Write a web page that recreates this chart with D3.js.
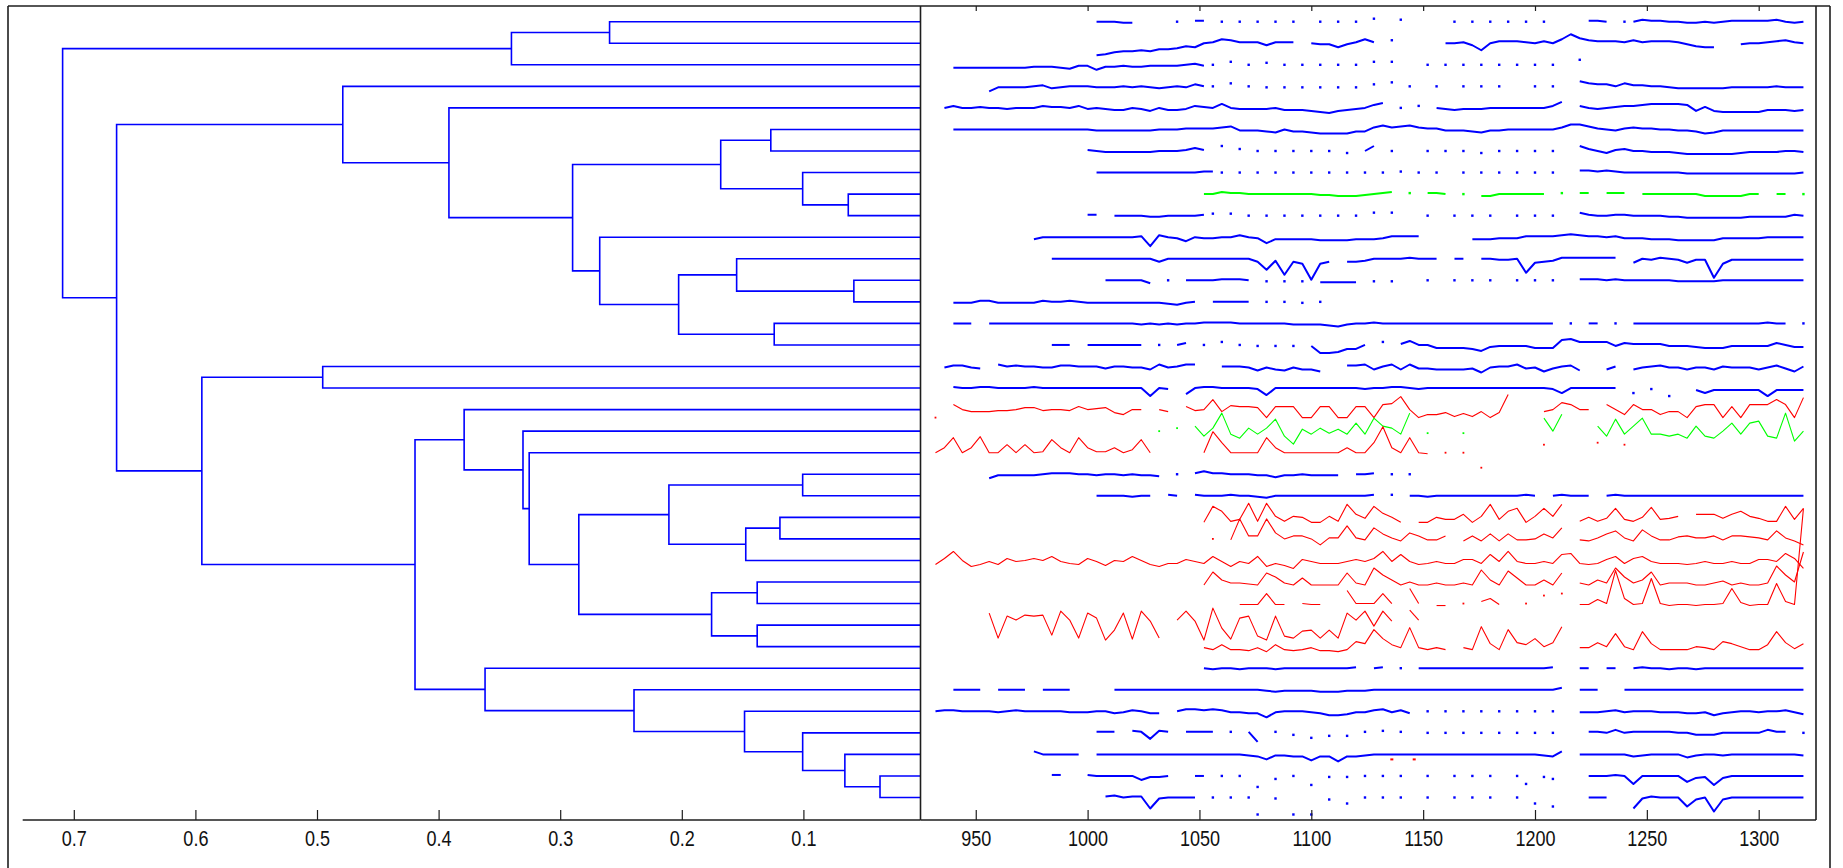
<!DOCTYPE html>
<html><head><meta charset="utf-8">
<script src="https://cdn.jsdelivr.net/npm/d3@7"></script>
<style>html,body{margin:0;padding:0;background:#fff;} svg{display:block;}</style>
</head><body>
<svg id="chart" width="1843" height="868"></svg>
<script>
const _ = null;

// ---------------- Dendrogram data (leaves numbered 1..37 top to bottom) ----------------
const leafCount = 37;
// [child A, child B, merge distance]; internal node ids start at 38
const linkage = [
  [36,37,0.037],[13,14,0.0585],[9,10,0.0631],[35,38,0.0659],[8,40,0.1006],
  [22,23,0.1006],[34,41,0.1006],[24,25,0.1193],[15,16,0.124],[6,7,0.1268],
  [27,28,0.138],[29,30,0.138],[45,26,0.1474],[33,44,0.1484],[12,39,0.1549],
  [47,42,0.168],[48,49,0.1755],[52,46,0.2026],[43,50,0.2106],[32,51,0.2393],
  [1,2,0.2594],[11,55,0.2675],[56,54,0.2847],[53,59,0.2898],[21,60,0.3255],
  [20,62,0.3306],[58,3,0.3401],[31,57,0.3618],[19,63,0.379],[5,61,0.3915],
  [66,65,0.4194],[4,67,0.4788],[17,18,0.4953],[70,68,0.5947],[69,71,0.6648],
  [64,72,0.7092]
];
const distTicks = [0.7,0.6,0.5,0.4,0.3,0.2,0.1];
const timeTicks = [950,1000,1050,1100,1150,1200,1250,1300];

// ---------------- Time series (one row per leaf) ----------------
const rowColor = ['b','b','b','b','b','b','b','b','g','b','b','b','b','b','b','b','b','b',
                  'r','g','r','b','b','r','r','r','r','r','r','r','b','b','b','b','b','b','b'];
const sampleStep = 4;   // time units between samples
// each row: chunks [startTime, v, v, ...]; null = missing; values = offset from the leaf line (up +)
const row01 = [[1004,0,0,0,-1,-1],[1040,0,_,1,1],[1060,0,_,0,_,0,_,0,_,0,_,_,0,_,0,_,0,_,3,_,_,2],[1164,0,_,0,_,0,_,0,_,0,_,0],[1224,1,1,0],[1240,0],[1244,0,2,1,1,0,0,-1,-1,0,-1,0,1,1,1,1,1,2,0,-1,0]];
const row02 = [[1004,-12,-11,-9,-8,-8,-7,-8,-6,-6,-5,-3,-4,0,1,4,3,1,1,1,-2,1,1,1],[1100,0,-1,-1,-4,-1,1,4,1],[1136,3],[1160,0,0,1,-2,-7,0,2,2,2,1,0,2,0,4,9,5,3,2,2,2,1,3,1,2,2,2,1,-1,-3,-4,-4],[1292,-1,0,0,1,2,3,1,0]];
const row03 = [[940,-3,-3,-3,-3,-3,-3,-3,-3,-3,-2,-2,-2,-3,-4,-1,-1,-5,-2,-2,-1,-2,-2,-1,-1,-1,-1,0,1,-1],[1056,0,_,3,_,0,_,2,_,0,_,0,_,0,_,0,_,0,_,3,_,3],[1152,0,_,0,_,0,_,0,_,0,_,0,_,0,_,0,_,_,5]];
const row04 = [[956,-5,-1,-1,-1,-1,0,1,-2,-1,0,0,0,-1,-1,-1,0,-1,0,-1,-2,-1,0,-1,2,0],[1056,0,_,3,_,0,_,-1,_,-1,_,-1,_,-1,_,-1,_,-1,_,2,_,4,_,0,_,_,0,_,_,0,_,0,_,0,_,_,_,0,_,0],[1220,5,3,2,2,0,3,1,1,0,0,-1,-2,-2,-2,-2,-2,-2,-1,-1,-1,-1,-1,0,-1,-1,-1]];
const row05 = [[936,0,2,0,0,1,0,0,-1,0,0,0,2,1,1,0,2,-1,0,-1,-2,-2,0,-1,-3,0,-2,-2,-1,2,1,0,4,0,-1,-1,-1,-1,0,-2,-2,-2,-3,-4,-5,-3,-2,-1,0,3,5],[1140,0,_,2],[1156,0,-1,-2,-1,-1,-1,0,0,0,0,0,0,0,2,6],[1220,2,0,-1,0,1,2,2,3,4,4,4,4,3,-3,1,-3,-4,-4,-4,-4,-4,-2,-2,-2,-3,-2]];
const row06 = [[940,0,0,0,0,0,0,0,0,0,0,0,0,0,0,0,0,-1,-1,-1,-1,-1,-1,-1,0,0,0,1,1,1,1,2,3,-1,-1,-1,-2,-3,0,-2,-2,-3,-4,-4,-4,-4,-2,-2,2,4,2,3,4,2,1,1,-1,-1,-1,-2,-3,-1,-1,0,0,0,0,0,0,2,5,5,3,1,0,-1,1,2,1,1,0,0,-1,-1,-2,-4,-3,-1,-1,-1,-1,-1,-1,-1,-1,-1,-1]];
const row07 = [[1000,1,0,-1,-1,-1,-1,-1,-1,0,0,0,1,3,1],[1060,5,_,2,_,0,_,0,_,0,_,0,_,0,_,-2,_,0,5,_,0],[1152,0,_,0,_,0,_,-2,_,0,_,0,_,0,_,0],[1220,5,2,0,-2,1,2,0,0,-1,-1,-1,-2,-3,-3,-3,-3,-3,-3,-2,-1,-1,-1,-1,0,0,-1]];
const row08 = [[1004,0,0,0,0,0,0,0,0,0,0,0,0,1,1],[1060,0,_,0,_,0,_,0,_,0,_,0,_,0,_,0,_,0,_,0,_,1,_,0],[1156,0,_,_,0,_,0,_,0,_,0,_,0,_,0],[1220,2,2,1,2,1,0,0,0,0,0,0,0,-1,-1,-1,-1,-1,-1,-1,-1,-1,-1,-1,-1,-1,0]];
const row09 = [[1052,0,0,2,1,1,0,0,0,0,0,0,0,0,-1,-1,-2,-2,-2,-1,0,1,2],[1144,1],[1152,1,1,0],[1168,0],[1176,-2,-2,0,0,0,0,0,0],[1212,1],[1220,1,1],[1232,1,1,1],[1248,0,0,0,0,0,0,0,-2,-2,-2,-2,-2,0,0],[1308,0,0],[1320,0]];
const row10 = [[1000,1,1],[1012,0,0,0,0,-1,-1,0,0,0,0,1],[1056,2,_,2,_,0,_,0,_,0,_,0,_,0,_,0,_,0,_,3,_,3],[1152,0,_,_,0,_,0,_,0,_,_,0,_,0,_,0],[1220,3,1,0,0,1,1,0,0,0,0,-1,-1,-2,-2,-2,-2,-2,-2,-2,-1,-1,-1,-1,-1,1,0]];
const row11 = [[976,-2,0,0,0,0,0,0,0,0,0,0,0,1,-9,2,0,-1,-4,0,-1,-1,0,0,2,0,-1,-6,-2,-2,-2,-2,-2,-3,-3,-3,-3,-2,-2,-2,-1,1,1,1,1],[1172,-2,-2,-2,-1,-1,-1,1,1,1,1,2,3,2,1,1,0,1,-1,-1,-1,-2,-2,-2,-3,-3,-3,-3,-3,-1,-1,-1,-1,-1,0,0,0,0,0]];
const row12 = [[984,0,0,0,0,0,0,0,0,0,0,0,0,-3,0,0,0,0,0,0,0,0,0,0,-3,-11,-2,-16,-3,-5,-21,-5,-3],[1116,-3,-3,-2,0,0,0,0,1,0,0,0],[1164,0,0],[1176,0,0,-1,-1,0,-14,-4,-3,-2,1,1,1,1,1,1,1],[1244,-4,0,-1,1,0,-1,-4,-1,-1,-19,-5,-1,-1,-1,-1,-1,-1,-1,-1,-1]];
const row13 = [[1008,0,0,0,0,0,-3],[1036,0],[1044,0,0,0,0,1,1,1,0],[1080,-1,_,-1,_,-1,_,-2,-2,-2,-2,-2,_,-1,_,-1],[1152,0,_,_,0,_,0,_,0,_,_,0,_,0,_,0],[1220,1,1,1,0,1,0,0,0,0,0,0,-1,-1,-1,-1,-1,0,0,0,0,0,0,0,0,0,0]];
const row14 = [[940,-1,-1,-1,1,1,-1,-1,-1,-1,-1,1,0,0,1,0,-1,-1,-1,-1,-1,-1,-1,-1,-1,-2,-3,-1,0],[1056,0,0,0,0,0,_,0,_,0,_,-1,_,0]];
const row15 = [[940,0,0,0],[956,0,0,0,0,0,0,0,0,0,0,0,0,0,0,0,0,0,-1,0,-1,0,-1,0,0,1,1,1,1,0,0,0,0,0,0,-1,-1,-1,-1,-2,-3,-1,0,0,1,0,0,0,0,0,0,0,0,0,0,0,0,0,0,0,0,0,0,0,0],[1216,0],[1224,0,0],[1236,0],[1244,0,0,0,0,0,0,0,0,0,0,0,0,0,0,0,1,0,0,_,0]];
const row16 = [[984,0,0,0],[1000,0,0,0,0,0,0,0],[1032,0],[1040,0,2],[1052,0],[1060,3],[1068,0],[1076,-1],[1084,-1],[1092,-1],[1100,-1,-8,-8,-7,-4,-4,0],[1132,3],[1140,1,4,0,0,-3,-3,-3,-3,-4,-6,-2,-1,-1,-1,-1,-3,-3,-3,5,6,3,3,3,3,-1,2,1,1,1,1,-1,-1,-1,-2,-3,-3,-3,-1,-1,-1,-1,-1,2,0,-2,-2]];
const row17 = [[936,-1,1,1,-1,-2],[960,2,0,1,0,0,-1,-1,1,1,0,0,0,-2,0,0,-1,-1,-3,2,-1,0,2,2],[1060,0,0,0,-1,-4,-1,-3,-4,-1,-3,-3,-5],[1116,1,1,2,-3,0,2,-3,2,-2,-2,-3,-3,-3,-3,-2,-6,-1,0,0,2,-2,-1,-5,-2,0,1,-4],[1232,-3,0],[1244,-3,-1,0,1,-1,-1,-3,-1,-1,-3,0,-1,-1,-1,-3,-1,1,-2,-5,0]];
const row18 = [[940,1,0,0,1,1,0,0,0,0,1,0,0,0,0,0,0,0,0,0,0,0,0,-8,0,-1],[1044,-6,0,1,1,0,0,0,0,-1,-7,0,0,0,0,0,0,0,0,0,0,-1,0,0,1,1,0,-1,0,0,0,0,0,0,0,0,0,0,0,0,0,0,-1,-5,0,0,0,0,0,0],[1244,-5],[1252,-1],[1260,-8],[1272,-2,-5,-2,-2,-2,-2,-2,-2,-8,-2,-2,-2,-2]];
const row19 = [[932,-8],[940,5,0,-2,-2,-2,-1,-1,0,2,2,-1,0,0,-1,3,0,1,2,-3,-5,0,0],[1032,0,-2],[1044,3,-1,0,10,-2,4,3,3,2,-8,3,3,3,-8,-8,3,3,-8,-8,3,3,-8,5,6,13,0,-8,-5,-5,-3,-7,-4,-7,-2,-8,-3,15],[1204,-2,0,7,5,0,0],[1232,5,0,-5,5,0,0,-5,-2,-2,-8,3,5,5,-8,3,-8,5,5,5,10,5,-8,12]];
const row20 = [[1032,0],[1040,3],[1048,5,-5,3,18,-3,-7,3,-3,3,12,-5,-13,2,-3,3,-2,2,-3,8,-3,13,5,3,-3,18],[1152,-2],[1168,-2],[1204,13,0,17],[1228,5,-5,12,-3,5,13,-3,-3,-5,-3,-7,5,-5,-7,0,8,-3,8,10,-5,-7,18,-10,0]];
const row21 = [[932,0,5,15,0,5,16,0,0,8,0,8,0,1,13,5,0,15,5,1,1,5,0,3,13,0],[1052,0,21,10,0,0,0,0,15,5,0,0,0,0,0,0,0,5,0,0,10,26,5,0,15,0,-1],[1160,0],[1168,0],[1176,-15],[1204,8],[1228,10],[1240,8]];
const row22 = [[956,-4,-1,-1,-1,-1,-1,0,1,1,1,0,0,-1,0,0,-1,0,-1,-1,-2],[1040,0],[1048,1,3,1,1,0,0,0,-1,-1,-3,-1,-1,0,-1,-1,-1,-1],[1120,0,0,1],[1136,0],[1144,0]];
const row23 = [[1004,0,0,0,0,-1,0,0],[1036,1,0],[1048,1,0,0,0,1,0,0,-1,-2,0,0,0,0,0,0,0,0,0,0,0,1],[1136,1],[1144,0,0,-1,0,0,0,0,0,0,0,0,0,0,1,0],[1208,0,1,0,0,0],[1232,0,1,0,0,0,0,0,0,0,0,0,0,0,0,0,0,0,0,0,0,0,0,0]];
const row24 = [[1052,-5,11,6,-4,-2,14,-4,14,1,-4,1,0,-5,-5,1,-4,13,3,-1,11,4,0,-5],[1148,-5,-5,0,-2,-2,3,-5,1,13,-2,6,9,-5,1,9,1,13],[1220,-4,0,-4,-1,9,-2,-4,0,10,-2,-1,1],[1272,3,3,3,-1,3,6,1,-1,-4,-4,11,-2,9]];
const row25 = [[1056,0],[1064,-1,20,3,3,20,6,0,3,3,0,-6,1,1,13,1,-1,11,5,1,-2,6,3,-1,-1,3],[1168,-2,3,-2,5,-2,5,-1,-1,0,5,1,11],[1220,-1,-2,1,5,8,1,-2,9,3,-1,-1,2,3,1,1,3,-1,3,3,2,1,-1,8,1,-2,-6]];
const row26 = [[932,-4,2,9,0,-6,-4,-1,-4,2,-1, 0,2,0,4,-1,-3,-4,2,-1,-5, 0,-1,4,0,-4,-6,-3,-3,1,-1, -3,4,-1,-6,-1,-3,4,-6,-3,-5, -8,1,-1,-3,-3,-3,-1,1,-1,2, 9,-1,6,-1,-4,-3,-1,-3,-3,1, 1,-3,6,-1,9,-1,-3,-3,-1,-3, 6,7,-3,-4,-3,1,4,-3,2,4, -1,-3,-3,-3,-4,-3,-1,-3,-3,-1, -3,-3,1,1,-1,7,2,-8]];
const row27 = [[1052,-3,10,2,-1,-1,-2,-3,9,5,-1, -3,4,-3,-3,-3,-3,9,-1,-3,14, 7,2,-3,0,-3,-3,-1,-3,-3,-1, -3,12,2,-3,11,4,-3,-3,2,-3, 9],[1220,-1,-3,2,-1,14,5,-1,2,10,-3,-1,-1,-1,-3,-3,-1,1,-3,-1,-3,-3,-1,16,7,0,30]];
const row28 = [[1068,-1,-1,-1,10,-1,-1],[1096,0,-1,-1],[1116,13,0,0,0,10,0],[1144,15,0],[1156,-2,-2],[1168,0],[1176,2,5,-1],[1196,0],[1204,8],[1212,10],[1220,-1,-1,4,0,33,5,-1,0,25,0,-2,-1,-1,-2,-1,-1,0,15,1,-2,-1,-1,20,2,-1,95]];
const row29 = [[956,12,-13,9,5,10,9,10,-10,14,5,-13,12,7,-15,-5,12,-14,14,4,-13],[1040,5,14,4,-15,17,-3,-14,7,9,-11,-15,9,-11,-13,-6,-5,-13,-5,-13,12,5,14,-1,14,4],[1144,15,5]];
const row30 = [[1052,-1,-3,2,-3,-3,-4,-1,-5,2,-3,-4,-3,-1,-4,-4,-5,-3,5,3,17,8,2,-1,19,-1,-3,-1,-3],[1168,-1,-3,20,3,-3,17,4,2,8,0,4,20],[1220,-1,-1,4,0,13,0,-3,15,3,-3,-3,-3,-3,0,-1,-3,5,3,0,-3,-3,2,15,4,-2,3]];
const row31 = [[1052,0,-1,0,0,-1,0,0,0,-1,0,0,0,0,0,0,0,0,1],[1128,0,1],[1140,0],[1148,0,0,0,0,0,0,0,0,0,0,0,0,0,0,0,1],[1220,0,0],[1232,0,0],[1244,0,1,0,0,-1,0,0,-1,0,0,0,0,0,0,0,0,0,0,0,0]];
const row32 = [[940,0,0,0,0],[960,0,0,0,0],[980,0,0,0,0],[1012,0,0,0,0,0,0,0,0,0,0,0,0,0,0,0,0,0,-1,-2,-1,-1,-1,-1,-2,-2,-2,-1,-1,-1,0,0,0,0,0,0,0,0,0,0,0,0,0,0,0,0,0,0,0,0,0,2],[1220,0,0,0],[1240,0,0,0,0,0,0,0,0,0,0,0,0,0,0,0,0,0,0,0,0,0]];
const row33 = [[932,0,1,1,0,0,0,0,-1,0,1,0,0,0,0,0,-1,-1,-1,0,0,-2,-1,1,0,-2,-2],[1040,0,2,2,1,2,1,-1,-1,-2,-2,-6,-1,0,0,0,-1,-2,-4,-4,-3,-1,-1,1,2,-1,1,-2],[1152,0,_,0,_,0,_,0,_,0,_,0,_,0,_,0],[1220,-1,-1,-1,0,1,-1,0,0,0,-1,-1,-1,-2,-2,-1,-4,-2,-1,0,0,-1,0,0,1,-1,-3]];
const row34 = [[1004,1,1,1,_,2,1,-6,2,1,_,1,1,1,1,_,1,_,1,-9,_,1,_,-2,_,-5,_,-3,_,-3,_,1,_,2,_,1],[1152,0,_,0,_,0,_,0,_,0,_,0,_,0,_,0],[1224,1,1,0,3,0,1,1,1,1,1,0,0,-2,-2,-2,0,0,0,0,0,3,1,1,_,0]];
const row35 = [[976,3,0,0,0,0,0],[1004,0,0,0,0,0,0,0,0,0,0,0,0,0,0,0,0,0,-1,-2,-5,-1,-1,-2,-2,-6,-2,-2,-7,-2,-2,-1,0,0,0,0,0,0,0,0,0,0,0,0,0,0,0,0,0,0,0,-1,-2,3],[1220,0,0,0,0,0,0,-2,-1,0,0,0,0,-3,-1,0,0,-1,0,0,0,0,0,0,0,0,-1]];
const row36 = [[984,1,1],[1000,1,0,0,0,0,0,-4,-1,-1,0],[1048,0,0],[1060,0],[1068,0],[1076,-11],[1084,-3],[1092,0],[1100,-9],[1108,-1],[1116,-1],[1124,0],[1132,0],[1140,0],[1152,0],[1164,0],[1172,0],[1180,0],[1192,0],[1196,-8],[1204,-1],[1208,-3],[1224,0,0,0,1,0,-8,0,0,0,0,0,-6,-2,-1,-9,-2,0,0,0,0,0,0,0,0,0]];
const row37 = [[1008,1,2,0,1,1,-11,-1,0,0,0,0],[1056,0],[1064,0],[1072,0],[1076,-17],[1084,-1],[1092,-17],[1100,-17],[1108,-2],[1116,-6],[1124,0],[1132,0],[1140,0],[1152,0],[1164,0],[1172,0],[1180,0],[1192,0],[1200,-6],[1208,-9],[1224,0,0,0],[1244,-11,-1,1,0,0,0,-9,-2,0,-14,-2,0,0,0,0,0,0,0,0,0]];
const rowsData = [row01,row02,row03,row04,row05,row06,row07,row08,row09,row10,row11,row12,row13,row14,row15,row16,row17,row18,row19,row20,row21,row22,row23,row24,row25,row26,row27,row28,row29,row30,row31,row32,row33,row34,row35,row36,row37];
// isolated red samples drawn on row 35: [row, time, value]
const redSpecks = [[35,1136,-5],[35,1146,-5]];

// ---------------- Layout ----------------
const svg = d3.select('#chart');
const frameX = 8, frameY = 6, frameR = 1830;
const divX = 920.5, rightX = 1816, axisY = 820, leftAxisX = 22.7;

const xDist = d3.scaleLinear().domain([0, 0.7]).range([925, 73.8]);
const xTime = d3.scaleLinear().domain([1000, 1300]).range([1087.6, 1758.7]);
const yLeaf = d3.scaleLinear().domain([1, leafCount]).range([21.7, 797.5]);
const amp = d3.scaleLinear().domain([0, 10]).range([0, -10]);

const colorMap = {b: '#0000ff', r: '#ff0000', g: '#00ff00'};

svg.append('rect').attr('width', 1843).attr('height', 868).attr('fill', '#fff');
const defs = svg.append('defs');
defs.append('clipPath').attr('id', 'clipL').append('rect')
  .attr('x', leftAxisX).attr('y', frameY).attr('width', divX - leftAxisX).attr('height', axisY - frameY);
defs.append('clipPath').attr('id', 'clipR').append('rect')
  .attr('x', divX).attr('y', frameY).attr('width', rightX - divX).attr('height', axisY - frameY);

// ---------------- Dendrogram ----------------
const node = {};
for (let i = 1; i <= leafCount; i++) node[i] = {y: yLeaf(i), h: 0};
const gDend = svg.append('g').attr('clip-path', 'url(#clipL)');
linkage.forEach(([a, b, h], k) => {
  const id = leafCount + 1 + k;
  const A = node[a], B = node[b];
  node[id] = {y: (A.y + B.y) / 2, h};
  const p = d3.path();
  p.moveTo(xDist(A.h), A.y);
  p.lineTo(xDist(h), A.y);
  p.lineTo(xDist(h), B.y);
  p.lineTo(xDist(B.h), B.y);
  gDend.append('path').attr('d', p.toString())
    .attr('fill', 'none').attr('stroke', '#0000ff').attr('stroke-width', 1.6);
});

// ---------------- Series ----------------
const gSer = svg.append('g').attr('clip-path', 'url(#clipR)');
rowsData.forEach((chunks, r) => {
  const col = colorMap[rowColor[r]];
  const thin = rowColor[r] === 'r' || r === 19;
  const base = yLeaf(r + 1);
  const line = d3.line().defined(d => d.v !== null)
    .x(d => xTime(d.t)).y(d => base + amp(d.v));
  chunks.forEach(ch => {
    const t0 = ch[0];
    const pts = ch.slice(1).map((v, j) => ({t: t0 + j * sampleStep, v}));
    gSer.append('path').attr('d', line(pts)).attr('fill', 'none')
      .attr('stroke', col).attr('stroke-width', thin ? 1.1 : 2)
      .attr('stroke-linejoin', 'round');
    pts.forEach((d, j) => {
      if (d.v === null) return;
      const prev = j > 0 ? pts[j - 1].v : null;
      const next = j < pts.length - 1 ? pts[j + 1].v : null;
      if (prev === null && next === null) {
        const s = thin ? 1.8 : 2.4;
        gSer.append('rect').attr('x', xTime(d.t) - s / 2).attr('y', base + amp(d.v) - s / 2)
          .attr('width', s).attr('height', s).attr('fill', col);
      }
    });
  });
});
redSpecks.forEach(([r, t, v]) => {
  gSer.append('rect').attr('x', xTime(t) - 1.5).attr('y', yLeaf(r) + amp(v) - 1)
    .attr('width', 3).attr('height', 2).attr('fill', '#ff0000');
});

// ---------------- Axes & frames ----------------
const ink = '#1e1e1e';
function styleAxis(g) {
  g.select('.domain').remove();
  g.selectAll('.tick line').attr('stroke', ink).attr('stroke-width', 1.2);
  g.selectAll('.tick text').attr('fill', '#111')
    .style('font-family', '"Liberation Sans", Arial, sans-serif').style('font-size', '22px')
    .attr('transform', 'scale(0.82,1)');
}
const gAxL = svg.append('g').attr('transform', `translate(0,${axisY})`)
  .call(d3.axisBottom(xDist).tickValues(distTicks).tickSizeInner(-10).tickSizeOuter(0)
    .tickPadding(10).tickFormat(d3.format('.1f')));
styleAxis(gAxL);
const gAxR = svg.append('g').attr('transform', `translate(0,${axisY})`)
  .call(d3.axisBottom(xTime).tickValues(timeTicks).tickSizeInner(-10).tickSizeOuter(0)
    .tickPadding(10).tickFormat(d3.format('d')));
styleAxis(gAxR);
const gAxT = svg.append('g').attr('transform', `translate(0,${frameY})`)
  .call(d3.axisTop(xTime).tickValues(timeTicks).tickSizeInner(-5).tickSizeOuter(0).tickFormat(''));
styleAxis(gAxT);

const lines = [
  [leftAxisX, axisY, divX, axisY],
  [divX, axisY, rightX, axisY],
  [divX, frameY, divX, axisY],
  [rightX, frameY, rightX, axisY],
  [frameX, frameY, frameR, frameY],
  [frameX, frameY, frameX, 868],
  [frameR, frameY, frameR, 868]
];
svg.append('g').selectAll('line').data(lines).join('line')
  .attr('x1', d => d[0]).attr('y1', d => d[1]).attr('x2', d => d[2]).attr('y2', d => d[3])
  .attr('stroke', ink).attr('stroke-width', 1.6);
</script>
</body></html>
